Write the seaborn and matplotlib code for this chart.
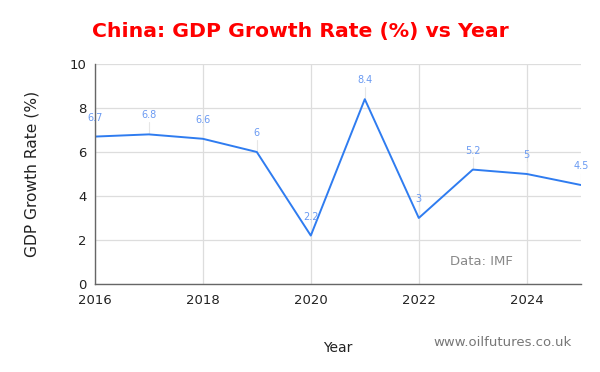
import pandas as pd
import matplotlib.pyplot as plt
import seaborn as sns

years = [2016, 2017, 2018, 2019, 2020, 2021, 2022, 2023, 2024, 2025]
growth = [6.7, 6.8, 6.6, 6.0, 2.2, 8.4, 3.0, 5.2, 5.0, 4.5]
labels = ['6.7', '6.8', '6.6', '6', '2.2', '8.4', '3', '5.2', '5', '4.5']

df = pd.DataFrame({'Year': years, 'Growth': growth})

sns.set_style('white')
plt.rcParams['font.family'] = ['DejaVu Sans']

fig = plt.figure(figsize=(6, 3.72), dpi=100)
ax = fig.add_axes([0.158, 0.2366, 0.81, 0.5914])

sns.lineplot(data=df, x='Year', y='Growth', ax=ax, color='#2f7cf0', linewidth=1.4)

ax.set_xlim(2016, 2025)
ax.set_ylim(0, 10)
ax.set_xticks([2016, 2018, 2020, 2022, 2024])
ax.set_yticks([0, 2, 4, 6, 8, 10])
ax.grid(True, color='#dddddd', linewidth=0.9)
ax.set_axisbelow(True)

for s in ['top', 'right']:
    ax.spines[s].set_visible(False)
for s in ['left', 'bottom']:
    ax.spines[s].set_color('#666666')
    ax.spines[s].set_linewidth(1.0)

ax.tick_params(axis='both', length=0, labelsize=9.5, colors='#222222')
ax.tick_params(axis='x', pad=7)
ax.tick_params(axis='y', pad=6)

# data labels with faint stems
for x, y, t in zip(years, growth, labels):
    ax.plot([x, x], [y, y + 0.55], color='#e6e6e6', linewidth=0.8, zorder=1)
    ax.annotate(t, (x, y), xytext=(0, 10), textcoords='offset points',
                ha='center', va='bottom', fontsize=7, color='#6a9af2')

ax.set_xlabel('Year', fontsize=10, color='#222222', labelpad=0)
ax.xaxis.set_label_coords(0.5, -0.26)
ax.set_ylabel('GDP Growth Rate (%)', fontsize=11.2, color='#222222', labelpad=22)

fig.text(0.5, 0.915, 'China: GDP Growth Rate (%) vs Year', ha='center', va='center',
         fontsize=14.7, fontweight='bold', color='#ff0000')
fig.text(0.953, 0.08, 'www.oilfutures.co.uk', ha='right', va='center',
         fontsize=9.5, color='#777777')
ax.text(0.73, 0.1, 'Data: IMF', transform=ax.transAxes, ha='left', va='center',
        fontsize=9.5, color='#888888')

fig.savefig('out.png', dpi=100, facecolor='white')
